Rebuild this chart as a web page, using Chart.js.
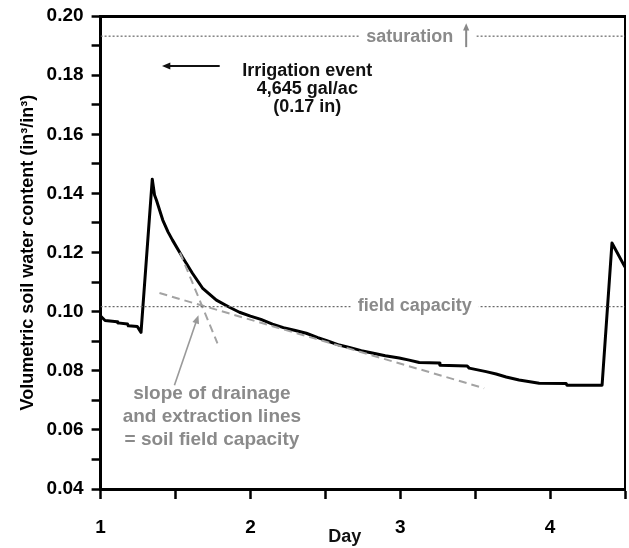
<!DOCTYPE html>
<html>
<head>
<meta charset="utf-8">
<script src="https://cdn.jsdelivr.net/npm/chart.js@4.4.1/dist/chart.umd.min.js"></script>
<style>
  html, body { margin: 0; padding: 0; background: #fff; }
  #wrap { width: 629px; height: 548px; }
</style>
</head>
<body>
<div id="wrap"><canvas id="soilChart" width="629" height="548"></canvas></div>
<script>
// soil moisture trace (day, in3/in3)
const days = [1.00, 1.02, 1.03, 1.11, 1.115, 1.18, 1.185, 1.245, 1.25, 1.27,
  1.345, 1.36, 1.373, 1.415, 1.45, 1.48, 1.547, 1.613, 1.68, 1.773, 1.86,
  1.927, 2.0, 2.07, 2.147, 2.22, 2.3, 2.373, 2.45, 2.52, 2.593, 2.66, 2.74,
  2.813, 2.9, 2.993, 3.06, 3.127, 3.26, 3.265, 3.447, 3.46, 3.573, 3.64,
  3.707, 3.793, 3.927, 4.107, 4.113, 4.347, 4.413, 4.5];
const vwc = [0.0985, 0.0975, 0.0970, 0.0966, 0.0962, 0.0958, 0.0952, 0.0950, 0.0946, 0.0930,
  0.1448, 0.1395, 0.1377, 0.1310, 0.1270, 0.1242, 0.1184, 0.1130, 0.1080, 0.1039, 0.1015,
  0.0998, 0.0985, 0.0974, 0.0958, 0.0946, 0.0936, 0.0927, 0.0912, 0.0900, 0.0887, 0.0879, 0.0868,
  0.0860, 0.0851, 0.0843, 0.0836, 0.0828, 0.0826, 0.0819, 0.0816, 0.0809, 0.0797, 0.0789,
  0.0779, 0.0769, 0.0758, 0.0757, 0.0751, 0.0751, 0.1232, 0.1151];

// dashed tangents: drainage (steep) and extraction (shallow)
const drainDays = [1.53, 1.78];
const drainVwc = [0.1200, 0.0893];
const extractDays = [1.393, 3.56];
const extractVwc = [0.1063, 0.0741];

// reference levels
const saturation = 0.1932;
const fieldCapacity = 0.1017;

const xMin = 1, xMax = 4.5;
const yMin = 0.04, yMax = 0.20;

const FONT = "'Liberation Sans', Arial, Helvetica, sans-serif";
const GREY_TEXT = "#8a8a8a";
const GREY_LINE = "#a3a3a3";

function pts(xs, ys) {
  return xs.map((x, i) => ({ x: x, y: ys[i] }));
}

// annotation anchors in data units
const notes = {
  irrigation: { x: 2.38, y: 0.1814, lines: ["Irrigation event", "4,645 gal/ac", "(0.17 in)"] },
  irrigationArrow: { from: [1.795, 0.1831], to: [1.41, 0.1831] },
  saturation: { x: 3.063, y: saturation, text: "saturation" },
  saturationArrow: { from: [3.44, 0.1895], to: [3.44, 0.1976] },
  fieldCap: { x: 3.097, y: fieldCapacity, text: "field capacity" },
  slope: { x: 1.743, y: 0.0721, lines: ["slope of drainage", "and extraction lines", "= soil field capacity"] },
  slopeArrow: { from: [1.493, 0.0751], to: [1.653, 0.0988] }
};

function arrow(ctx, x1, y1, x2, y2, color, width, head) {
  const ang = Math.atan2(y2 - y1, x2 - x1);
  ctx.save();
  ctx.strokeStyle = color;
  ctx.fillStyle = color;
  ctx.lineWidth = width;
  ctx.beginPath();
  ctx.moveTo(x1, y1);
  ctx.lineTo(x2 - Math.cos(ang) * head * 0.6, y2 - Math.sin(ang) * head * 0.6);
  ctx.stroke();
  ctx.beginPath();
  ctx.moveTo(x2, y2);
  ctx.lineTo(x2 - head * Math.cos(ang - 0.4), y2 - head * Math.sin(ang - 0.4));
  ctx.lineTo(x2 - head * Math.cos(ang + 0.4), y2 - head * Math.sin(ang + 0.4));
  ctx.closePath();
  ctx.fill();
  ctx.restore();
}

const annotationPlugin = {
  id: "annotations",
  afterDatasetsDraw(chart) {
    const { ctx, scales: { x, y } } = chart;
    const px = v => x.getPixelForValue(v);
    const py = v => y.getPixelForValue(v);
    ctx.save();
    ctx.textAlign = "center";
    ctx.textBaseline = "middle";

    // saturation label, blanking the dotted line behind it
    ctx.font = "bold 18px " + FONT;
    let sx = px(notes.saturation.x), sy = py(notes.saturation.y);
    let w = ctx.measureText(notes.saturation.text).width;
    ctx.fillStyle = "#fff";
    ctx.fillRect(sx - w / 2 - 7, sy - 6, px(notes.saturationArrow.from[0]) + 10 - (sx - w / 2 - 7), 12);
    ctx.fillStyle = GREY_TEXT;
    ctx.fillText(notes.saturation.text, sx, sy + 1);
    const sa = notes.saturationArrow;
    arrow(ctx, px(sa.from[0]), py(sa.from[1]), px(sa.to[0]), py(sa.to[1]), "#888", 2, 8);

    // field capacity label
    let fx = px(notes.fieldCap.x), fy = py(notes.fieldCap.y);
    w = ctx.measureText(notes.fieldCap.text).width;
    ctx.fillStyle = "#fff";
    ctx.fillRect(fx - w / 2 - 7, fy - 6, w + 14, 12);
    ctx.fillStyle = GREY_TEXT;
    ctx.fillText(notes.fieldCap.text, fx, fy - 1);

    // irrigation note
    ctx.fillStyle = "#111";
    notes.irrigation.lines.forEach((t, i) => {
      ctx.fillText(t, px(notes.irrigation.x), py(notes.irrigation.y) + i * 18);
    });
    const ia = notes.irrigationArrow;
    arrow(ctx, px(ia.from[0]), py(ia.from[1]), px(ia.to[0]), py(ia.to[1]), "#111", 2, 9);

    // slope note
    ctx.font = "bold 19px " + FONT;
    ctx.fillStyle = GREY_TEXT;
    notes.slope.lines.forEach((t, i) => {
      ctx.fillText(t, px(notes.slope.x), py(notes.slope.y) + i * 23);
    });
    const la = notes.slopeArrow;
    arrow(ctx, px(la.from[0]), py(la.from[1]), px(la.to[0]), py(la.to[1]), "#999", 1.6, 9);

    // x axis title, sits left of centre in the original
    ctx.font = "bold 18px " + FONT;
    ctx.fillStyle = "#111";
    ctx.fillText("Day", px(2.63), chart.chartArea.bottom + 48);
    ctx.restore();
  }
};

const ctx = document.getElementById("soilChart").getContext("2d");

new Chart(ctx, {
  type: "line",
  data: {
    datasets: [
      {
        label: "saturation",
        data: pts([xMin, xMax], [saturation, saturation]),
        borderColor: "#666",
        borderWidth: 1.2,
        borderDash: [2, 2],
        pointRadius: 0
      },
      {
        label: "field capacity",
        data: pts([xMin, xMax], [fieldCapacity, fieldCapacity]),
        borderColor: "#666",
        borderWidth: 1.2,
        borderDash: [2, 2],
        pointRadius: 0
      },
      {
        label: "drainage",
        data: pts(drainDays, drainVwc),
        borderColor: GREY_LINE,
        borderWidth: 2,
        borderDash: [8, 5],
        pointRadius: 0
      },
      {
        label: "extraction",
        data: pts(extractDays, extractVwc),
        borderColor: GREY_LINE,
        borderWidth: 2,
        borderDash: [8, 5],
        pointRadius: 0
      },
      {
        label: "soil water",
        data: pts(days, vwc),
        borderColor: "#000",
        borderWidth: 3,
        borderJoinStyle: "round",
        pointRadius: 0,
        tension: 0
      }
    ]
  },
  options: {
    responsive: false,
    animation: false,
    layout: { padding: { left: 0, right: 4, top: 16, bottom: 11 } },
    plugins: {
      legend: { display: false },
      tooltip: { enabled: false }
    },
    scales: {
      x: {
        type: "linear",
        position: "bottom",
        min: xMin,
        max: xMax,
        grid: { drawOnChartArea: false, drawTicks: true, tickLength: 10, tickColor: "#000", tickWidth: 2.5 },
        border: { display: true, color: "#000", width: 3 },
        ticks: {
          stepSize: 0.5,
          padding: 0,
          color: "#000",
          font: { family: FONT, size: 19, weight: "bold", lineHeight: 1.0 },
          maxRotation: 0,
          autoSkip: false,
          // blank first line pushes the numbers down without widening the right padding
          callback: v => (Number.isInteger(v) ? ["", String(v)] : "")
        }
      },
      y: {
        type: "linear",
        position: "left",
        min: yMin,
        max: yMax,
        grid: { drawOnChartArea: false, drawTicks: true, tickLength: 9, tickColor: "#000", tickWidth: 2.5 },
        border: { display: true, color: "#000", width: 3 },
        ticks: {
          stepSize: 0.01,
          padding: 8,
          color: "#000",
          font: { family: FONT, size: 19, weight: "bold", lineHeight: 0.85 },
          autoSkip: false,
          callback: v => (Math.round(v * 100) % 2 === 0 ? v.toFixed(2) : "")
        },
        title: {
          display: true,
          text: "Volumetric soil water content (in³/in³)",
          color: "#000",
          font: { family: FONT, size: 18, weight: "bold" },
          padding: { top: 17, bottom: 0 }
        }
      },
      x2: {
        type: "linear",
        position: "top",
        grid: { display: false, drawTicks: false },
        ticks: { display: false },
        border: { display: true, color: "#000", width: 3 }
      },
      y2: {
        type: "linear",
        position: "right",
        grid: { display: false, drawTicks: false },
        ticks: { display: false },
        border: { display: true, color: "#000", width: 2 }
      }
    }
  },
  plugins: [annotationPlugin]
});
</script>
</body>
</html>
